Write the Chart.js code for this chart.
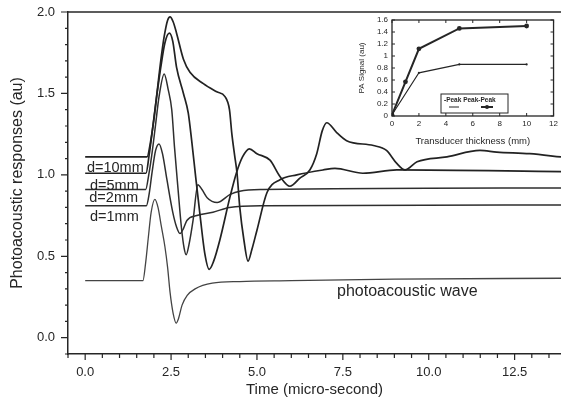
<!DOCTYPE html>
<html>
<head>
<meta charset="utf-8">
<script src="https://cdn.jsdelivr.net/npm/chart.js@4.4.1/dist/chart.umd.min.js"></script>
<style>
  html, body { margin: 0; padding: 0; background: #fff; }
  #wrap { position: relative; width: 561px; height: 399px; overflow: hidden; }
  #main { position: absolute; left: 0; top: 0; }
  #inset { position: absolute; left: 340px; top: 6px; }
</style>
</head>
<body>
<div id="wrap">
  <canvas id="main" width="561" height="399" style="width:561px;height:399px"></canvas>
  <canvas id="inset" width="221" height="146" style="width:221px;height:146px"></canvas>
</div>
<script>
// akselien jaot
const timeTicks = [0, 2.5, 5, 7.5, 10, 12.5];
const responseTicks = [0, 0.5, 1, 1.5, 2];

// käyrät luettu kuvasta (aika µs, vaste au)
const paTime  = [0, 1.68, 1.76, 1.84, 1.92, 2.03, 2.12, 2.22, 2.32, 2.4, 2.47, 2.56, 2.65, 2.72, 2.82, 2.97, 3.2, 3.7, 4.5, 6, 9, 13.85];
const paValue = [0.35, 0.35, 0.46, 0.62, 0.77, 0.85, 0.8, 0.68, 0.56, 0.43, 0.28, 0.15, 0.09, 0.12, 0.2, 0.26, 0.3, 0.335, 0.345, 0.35, 0.36, 0.365];

const d1Time  = [0, 1.78, 1.86, 1.95, 2.05, 2.15, 2.25, 2.38, 2.55, 2.66, 2.76, 2.86, 2.96, 3.25, 3.72, 4.2, 5.2, 13.85];
const d1Value = [0.81, 0.81, 0.88, 1.02, 1.15, 1.19, 1.13, 0.97, 0.77, 0.68, 0.64, 0.67, 0.72, 0.75, 0.77, 0.8, 0.81, 0.815];

const d2Time  = [0, 1.76, 1.85, 1.95, 2.05, 2.15, 2.3, 2.42, 2.52, 2.6, 2.7, 2.8, 2.88, 2.94, 3.02, 3.14, 3.28, 3.4, 3.55, 3.84, 4.22, 4.5, 5.17, 13.85];
const d2Value = [0.91, 0.91, 1.0, 1.14, 1.31, 1.48, 1.62, 1.52, 1.40, 1.17, 0.92, 0.68, 0.55, 0.51, 0.57, 0.72, 0.94, 0.91, 0.86, 0.83, 0.88, 0.9, 0.91, 0.92];

const d5Time  = [0, 1.77, 1.86, 1.96, 2.08, 2.2, 2.32, 2.45, 2.55, 2.66, 2.86, 3.0, 3.1, 3.22, 3.35, 3.48, 3.61, 3.74, 3.92, 4.21, 4.4, 4.58, 4.78, 5.0, 5.38, 5.67, 5.96, 6.25, 6.54, 6.74, 6.9, 7.03, 7.32, 7.61, 8.39, 8.77, 9.07, 9.31, 9.66, 10.53, 11.49, 11.98, 12.94, 13.85];
const d5Value = [1.01, 1.01, 1.12, 1.28, 1.48, 1.66, 1.81, 1.87, 1.82, 1.66, 1.50, 1.38, 1.21, 0.98, 0.74, 0.52, 0.42, 0.47, 0.60, 0.86, 1.01, 1.11, 1.16, 1.13, 1.09, 0.99, 0.93, 0.98, 1.03, 1.13, 1.27, 1.32, 1.26, 1.21, 1.18, 1.15, 1.07, 1.03, 1.08, 1.11, 1.15, 1.14, 1.13, 1.11];

const d10Time  = [0, 1.8, 1.9, 2.0, 2.1, 2.2, 2.3, 2.4, 2.47, 2.56, 2.66, 2.86, 3.05, 3.44, 3.83, 4.07, 4.2, 4.27, 4.35, 4.42, 4.5, 4.62, 4.74, 4.85, 5.0, 5.29, 5.67, 6.16, 6.92, 7.27, 8.08, 9.07, 13.85];
const d10Value = [1.11, 1.11, 1.2, 1.34, 1.52, 1.7, 1.85, 1.95, 1.97, 1.94, 1.87, 1.71, 1.63, 1.56, 1.51, 1.48, 1.40, 1.25, 1.12, 1.01, 0.8, 0.6, 0.47, 0.54, 0.66, 0.89, 0.97, 1.0, 1.03, 1.04, 1.01, 1.03, 1.02];

// pikkukuva: anturin paksuus (mm) vs PA-signaali
const insetXTicks = [0, 2, 4, 6, 8, 10, 12];
const insetYTicks = [0, 0.2, 0.4, 0.6, 0.8, 1, 1.2, 1.4, 1.6];
const ppThickness = [0, 1, 2, 5, 10];
const peakToPeak  = [0.02, 0.57, 1.12, 1.46, 1.50];
const peakThickness = [0, 2, 5, 10];
const peakSignal    = [0.02, 0.72, 0.86, 0.86];

const ink = '#262626';
const fontFamily = '"Liberation Sans", Arial, Helvetica, sans-serif';

const toPoints = (xs, ys) => xs.map((x, i) => ({ x, y: ys[i] }));

const curves = [
  { label: 'd=10mm', t: d10Time, v: d10Value, width: 1.7, color: '#222' },
  { label: 'd=5mm', t: d5Time, v: d5Value, width: 1.7, color: '#222' },
  { label: 'd=2mm', t: d2Time, v: d2Value, width: 1.5, color: '#2e2e2e' },
  { label: 'd=1mm', t: d1Time, v: d1Value, width: 1.5, color: '#2e2e2e' },
  { label: 'photoacoustic wave', t: paTime, v: paValue, width: 1.3, color: '#444' },
];

// kehys, pienet jaot ja käyrien nimet
const mainDecor = {
  id: 'mainDecor',
  afterDraw(chart) {
    const { ctx, chartArea: a, scales: { x, y } } = chart;
    ctx.save();
    ctx.strokeStyle = ink;
    ctx.lineWidth = 1.5;
    ctx.beginPath();
    ctx.moveTo(a.left, a.top);
    ctx.lineTo(a.right, a.top);
    ctx.stroke();

    ctx.lineWidth = 1.2;
    ctx.beginPath();
    for (let k = -1; k * 0.5 <= x.max; k++) {
      const t = k * 0.5;
      const px = x.getPixelForValue(t);
      const major = k % 5 === 0;
      ctx.moveTo(px, a.bottom);
      ctx.lineTo(px, a.bottom + (major ? 6 : 4));
    }
    for (let k = -1; k <= 20; k++) {
      const py = y.getPixelForValue(k * 0.1);
      const major = k % 5 === 0;
      ctx.moveTo(a.left, py);
      ctx.lineTo(a.left - (major ? 7 : 3), py);
    }
    ctx.stroke();

    ctx.fillStyle = ink;
    ctx.textBaseline = 'middle';
    ctx.textAlign = 'left';
    ctx.font = '14.5px ' + fontFamily;
    const labels = [
      { text: 'd=10mm', t: 0.05, v: 1.04 },
      { text: 'd=5mm', t: 0.14, v: 0.93 },
      { text: 'd=2mm', t: 0.12, v: 0.858 },
      { text: 'd=1mm', t: 0.14, v: 0.741 },
    ];
    labels.forEach(l => ctx.fillText(l.text, x.getPixelForValue(l.t), y.getPixelForValue(l.v)));
    ctx.font = '16px ' + fontFamily;
    ctx.fillText('photoacoustic wave', x.getPixelForValue(7.33), y.getPixelForValue(0.281));
    ctx.restore();
  }
};

new Chart(document.getElementById('main'), {
  type: 'line',
  data: {
    datasets: curves.map(c => ({
      label: c.label,
      data: toPoints(c.t, c.v),
      borderColor: c.color,
      borderWidth: c.width,
      pointRadius: 0,
      cubicInterpolationMode: 'monotone',
      fill: false
    }))
  },
  options: {
    responsive: false,
    animation: false,
    layout: { padding: { top: 12, right: 0, left: 0, bottom: 0 } },
    plugins: { legend: { display: false }, tooltip: { enabled: false } },
    scales: {
      x: {
        type: 'linear',
        min: -0.5,
        max: 13.85,
        afterBuildTicks: s => { s.ticks = timeTicks.map(v => ({ value: v })); },
        afterFit: s => { s.height = 45; },
        grid: { display: false, drawTicks: true, tickLength: 9 },
        border: { display: true, color: ink, width: 1.5 },
        ticks: { padding: 2, color: ink, font: { family: fontFamily, size: 13 }, maxRotation: 0, autoSkip: false, callback: v => Number(v).toFixed(1) },
        title: { display: true, text: 'Time (micro-second)', color: ink, font: { family: fontFamily, size: 15 }, padding: { top: 0, bottom: 0 } }
      },
      y: {
        min: -0.1,
        max: 2.0,
        afterBuildTicks: s => { s.ticks = responseTicks.map(v => ({ value: v })); },
        afterFit: s => { s.width = 68; },
        grid: { display: false, drawTicks: true, tickLength: 11 },
        border: { display: true, color: ink, width: 1.5 },
        ticks: { padding: 2, color: ink, font: { family: fontFamily, size: 13 }, autoSkip: false, callback: v => Number(v).toFixed(1) },
        title: { display: true, text: 'Photoacoustic responses (au)', color: ink, font: { family: fontFamily, size: 16 }, padding: { top: 8, bottom: 0 } }
      }
    }
  },
  plugins: [mainDecor]
});

// pikkukuvan laatikko, sisäjaot ja selite
const insetDecor = {
  id: 'insetDecor',
  afterDraw(chart) {
    const { ctx, chartArea: a, scales: { x, y } } = chart;
    ctx.save();
    ctx.strokeStyle = ink;
    ctx.lineWidth = 1.3;
    ctx.strokeRect(a.left, a.top, a.right - a.left, a.bottom - a.top);
    ctx.lineWidth = 1;
    ctx.beginPath();
    insetXTicks.forEach(t => {
      const px = x.getPixelForValue(t);
      ctx.moveTo(px, a.bottom); ctx.lineTo(px, a.bottom - 3);
      ctx.moveTo(px, a.top); ctx.lineTo(px, a.top + 3);
    });
    insetYTicks.forEach(v => {
      const py = y.getPixelForValue(v);
      ctx.moveTo(a.left, py); ctx.lineTo(a.left + 3, py);
      ctx.moveTo(a.right, py); ctx.lineTo(a.right - 3, py);
    });
    ctx.stroke();

    // selite
    const bx = 101, by = 88, bw = 67, bh = 19;
    ctx.lineWidth = 1;
    ctx.strokeRect(bx, by, bw, bh);
    ctx.fillStyle = ink;
    ctx.font = 'bold 6.5px ' + fontFamily;
    ctx.textBaseline = 'middle';
    ctx.textAlign = 'left';
    ctx.fillText('-Peak Peak-Peak', bx + 3, by + 6);
    ctx.lineWidth = 1;
    ctx.beginPath();
    ctx.moveTo(bx + 8, by + 13); ctx.lineTo(bx + 18, by + 13);
    ctx.stroke();
    ctx.lineWidth = 2;
    ctx.beginPath();
    ctx.moveTo(bx + 40, by + 13); ctx.lineTo(bx + 52, by + 13);
    ctx.stroke();
    ctx.beginPath();
    ctx.arc(bx + 46, by + 13, 2, 0, Math.PI * 2);
    ctx.fill();
    ctx.restore();
  }
};

new Chart(document.getElementById('inset'), {
  type: 'line',
  data: {
    datasets: [
      {
        label: 'Peak-Peak',
        data: toPoints(ppThickness, peakToPeak),
        borderColor: ink,
        borderWidth: 2,
        pointRadius: 2.4,
        pointBackgroundColor: ink,
        pointBorderWidth: 0,
        tension: 0
      },
      {
        label: 'Peak',
        data: toPoints(peakThickness, peakSignal),
        borderColor: ink,
        borderWidth: 1.2,
        pointRadius: 1.1,
        pointBackgroundColor: ink,
        pointBorderWidth: 0,
        tension: 0
      }
    ]
  },
  options: {
    responsive: false,
    animation: false,
    layout: { padding: { top: 14, right: 5, left: 0, bottom: 0 } },
    plugins: { legend: { display: false }, tooltip: { enabled: false } },
    scales: {
      x: {
        type: 'linear',
        min: 0,
        max: 12,
        afterBuildTicks: s => { s.ticks = insetXTicks.map(v => ({ value: v })); },
        afterFit: s => { s.height = 36; },
        grid: { display: false, drawTicks: false },
        border: { display: false },
        ticks: { padding: 3, color: ink, font: { family: fontFamily, size: 8 }, maxRotation: 0, autoSkip: false },
        title: { display: true, text: 'Transducer thickness (mm)', color: ink, font: { family: fontFamily, size: 9.5 }, padding: { top: 0, bottom: 5 } }
      },
      y: {
        min: 0,
        max: 1.6,
        afterBuildTicks: s => { s.ticks = insetYTicks.map(v => ({ value: v })); },
        afterFit: s => { s.width = 52; },
        grid: { display: false, drawTicks: false },
        border: { display: false },
        ticks: { padding: 4, color: ink, font: { family: fontFamily, size: 8 }, autoSkip: false, callback: v => String(+Number(v).toFixed(1)) },
        title: { display: true, text: 'PA Signal (au)', color: ink, font: { family: fontFamily, size: 8 }, padding: { top: 17, bottom: 0 } }
      }
    }
  },
  plugins: [insetDecor]
});
</script>
</body>
</html>
